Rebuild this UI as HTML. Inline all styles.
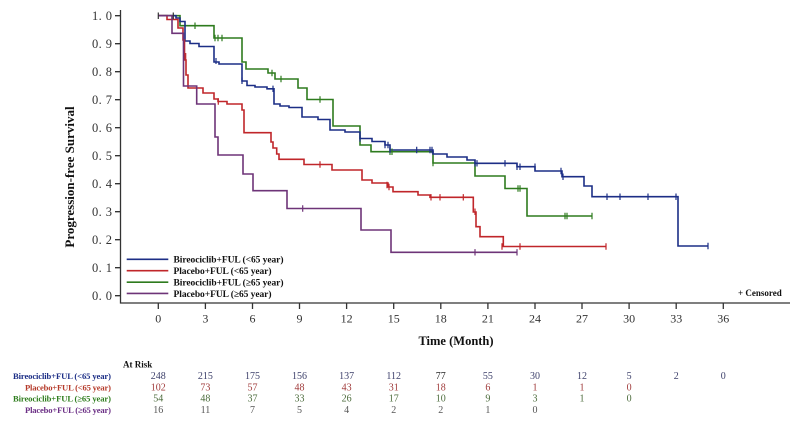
<!DOCTYPE html>
<html><head><meta charset="utf-8"><style>
html,body{margin:0;padding:0;background:#fff;}
svg{display:block;}
text{font-family:"Liberation Serif",serif;}
</style></head><body>
<svg width="800" height="424" viewBox="0 0 800 424" xmlns="http://www.w3.org/2000/svg">
<rect width="800" height="424" fill="#fff"/>
<!-- axes -->
<g stroke="#333" stroke-width="1.3" fill="none">
<path d="M120.5,10 V303 H790"/>
<path d="M115,15.7H120 M115,43.7H120 M115,71.7H120 M115,99.7H120 M115,127.7H120 M115,155.7H120 M115,183.7H120 M115,211.7H120 M115,239.7H120 M115,267.7H120 M115,295.7H120"/>
<path d="M158.3,303V309 M205.4,303V309 M252.5,303V309 M299.5,303V309 M346.6,303V309 M393.7,303V309 M440.8,303V309 M487.9,303V309 M535,303V309 M582,303V309 M629.1,303V309 M676.2,303V309 M723.3,303V309"/>
</g>
<g font-size="12.5" fill="#333" text-anchor="end">
<text x="112" y="20" textLength="20">1. 0</text>
<text x="112" y="48" textLength="20">0. 9</text>
<text x="112" y="76" textLength="20">0. 8</text>
<text x="112" y="104" textLength="20">0. 7</text>
<text x="112" y="132" textLength="20">0. 6</text>
<text x="112" y="160" textLength="20">0. 5</text>
<text x="112" y="188" textLength="20">0. 4</text>
<text x="112" y="216" textLength="20">0. 3</text>
<text x="112" y="244" textLength="20">0. 2</text>
<text x="112" y="272" textLength="20">0. 1</text>
<text x="112" y="300" textLength="20">0. 0</text>
</g>
<g font-size="12" fill="#333" text-anchor="middle">
<text x="158.3" y="322.5">0</text><text x="205.4" y="322.5">3</text><text x="252.5" y="322.5">6</text><text x="299.5" y="322.5">9</text>
<text x="346.6" y="322.5">12</text><text x="393.7" y="322.5">15</text><text x="440.8" y="322.5">18</text><text x="487.9" y="322.5">21</text>
<text x="535" y="322.5">24</text><text x="582" y="322.5">27</text><text x="629.1" y="322.5">30</text><text x="676.2" y="322.5">33</text><text x="723.3" y="322.5">36</text>
</g>
<text x="456" y="345" font-size="12.5" font-weight="bold" text-anchor="middle" fill="#111">Time (Month)</text>
<text transform="translate(74,177) rotate(-90)" font-size="13" font-weight="bold" text-anchor="middle" fill="#111">Progression-free Survival</text>
<text x="738" y="296" font-size="9" font-weight="bold" fill="#111">+ Censored</text>

<!-- curves -->
<g fill="none" stroke-width="1.6" stroke-linejoin="miter">
<path stroke="#2e7b1e" d="M158.3,15.7 H180 V25.7 H214 V38 H242 V62 H246 V69 H268 V73 H275 V79 H298 V88 H307 V99.5 H333 V126 H360 V145 H371 V151.7 H433 V163 H475 V176 H505 V188.5 H527 V216 H592"/>
<path stroke="#1c2e86" d="M158.3,15.7 H176 V18 H180 V21.5 H185 V41 H190 V43.5 H199 V46.5 H214 V62 H219 V64 H242 V81 H247 V85.5 H255 V87 H267 V88.8 H274 V104 H280 V106 H289 V107.5 H302 V117 H318 V119.5 H330 V130 H345 V132 H360 V138.5 H372 V141.5 H385 V145 H390 V150 H433 V154 H447 V157 H467 V160 H475 V163.3 H517 V166.7 H535 V171 H562 V176.7 H584 V186 H592 V196.7 H678 V246 H708"/>
<path stroke="#c0262a" d="M158.3,15.7 H167 V19.5 H178 V28 H183 V40 H184.5 V60 H186 V75 H188 V88 H203 V93 H214 V99 H218 V101.5 H227 V104 H242 V110 H244 V132.7 H271 V142 H273 V148 H276.7 V154 H279 V159.3 H304 V164.5 H332 V170 H362 V180 H372 V183 H388 V187 H393 V191.7 H418 V195 H430 V197.3 H473.3 V212 H476 V226.7 H480 V236.7 H503.3 V246.5 H606"/>
<path stroke="#6e3478" d="M158.3,15.7 H172 V33.3 H183.5 V86 H196.7 V104 H215 V137 H218 V155 H243 V174 H253 V190.7 H287 V208.5 H361 V230 H391 V252.3 H517"/>
</g>
<!-- censor marks -->
<g stroke-width="1.2">
<path stroke="#333" d="M158.3,12.5V19 M173.3,12.5V19"/>
<path stroke="#2e7b1e" d="M195,22.5V29 M215,34.8V41.2 M218,34.8V41.2 M222,34.8V41.2 M272,69.8V76.2 M281,75.8V82.2 M320,96.3V102.7 M390,148.5V155 M392,148.5V155 M433,159.8V166.2 M518,185.3V191.7 M520,185.3V191.7 M565,212.8V219.2 M567,212.8V219.2 M592,212.8V219.2"/>
<path stroke="#1c2e86" d="M216,58V64 M242,77.5V84 M273,85.6V92 M360,135.3V141.7 M385,141.8V148.2 M388,141.8V148.2 M390,146.8V153.2 M416.7,146.8V153.2 M430,146.8V153.2 M432,146.8V153.2 M475,160.1V166.5 M477,160.1V166.5 M505,160.1V166.5 M517,163.5V170 M520,163.5V170 M535,163.5V170 M561,167.8V174.2 M563,173.5V180 M607,193.5V200 M620,193.5V200 M648,193.5V200 M676,193.5V200 M708,242.8V249.2"/>
<path stroke="#c0262a" d="M185.7,53V59.5 M218.3,98.3V104.7 M320,161.3V167.7 M387,181.8V188.2 M389,183.8V190.2 M431,194.1V200.5 M440,194.1V200.5 M463.3,194.1V200.5 M475,208.5V215 M502,243.3V249.7 M520,243.3V249.7 M606,243.3V249.7"/>
<path stroke="#6e3478" d="M302.7,205.3V211.7 M475,249.1V255.5 M517,249.1V255.5"/>
</g>
<!-- legend -->
<g stroke-width="1.6">
<line x1="126.7" y1="259.3" x2="168.3" y2="259.3" stroke="#1c2e86"/>
<line x1="126.7" y1="270.7" x2="168.3" y2="270.7" stroke="#c0262a"/>
<line x1="126.7" y1="282.2" x2="168.3" y2="282.2" stroke="#2e7b1e"/>
<line x1="126.7" y1="293.4" x2="168.3" y2="293.4" stroke="#6e3478"/>
</g>
<g font-size="9.5" font-weight="bold" fill="#111">
<text x="173.5" y="262.5" textLength="110">Bireociclib+FUL (&lt;65 year)</text>
<text x="173.5" y="274" textLength="98">Placebo+FUL (&lt;65 year)</text>
<text x="173.5" y="285.5" textLength="110">Bireociclib+FUL (≥65 year)</text>
<text x="173.5" y="296.8" textLength="98">Placebo+FUL (≥65 year)</text>
</g>
<!-- at risk -->
<text x="123" y="367.5" font-size="9" font-weight="bold" fill="#111">At Risk</text>
<g font-size="8.6" font-weight="bold" text-anchor="end">
<text x="111" y="379" fill="#1c2e86" textLength="98">Bireociclib+FUL (&lt;65 year)</text>
<text x="111" y="390.3" fill="#b53a2a" textLength="86">Placebo+FUL (&lt;65 year)</text>
<text x="111" y="401.6" fill="#2f7d1e" textLength="98">Bireociclib+FUL (≥65 year)</text>
<text x="111" y="413" fill="#6b2f85" textLength="86">Placebo+FUL (≥65 year)</text>
</g>
<g font-size="10" text-anchor="middle">
<g fill="#3c3f6a">
<text x="158.3" y="379">248</text><text x="205.4" y="379">215</text><text x="252.5" y="379">175</text><text x="299.5" y="379">156</text><text x="346.6" y="379">137</text><text x="393.7" y="379">112</text><text x="440.8" y="379" fill="#222">77</text><text x="487.9" y="379">55</text><text x="535" y="379">30</text><text x="582" y="379">12</text><text x="629.1" y="379">5</text><text x="676.2" y="379">2</text><text x="723.3" y="379">0</text>
</g>
<g fill="#a03b3b">
<text x="158.3" y="390.3">102</text><text x="205.4" y="390.3">73</text><text x="252.5" y="390.3">57</text><text x="299.5" y="390.3">48</text><text x="346.6" y="390.3">43</text><text x="393.7" y="390.3">31</text><text x="440.8" y="390.3">18</text><text x="487.9" y="390.3">6</text><text x="535" y="390.3">1</text><text x="582" y="390.3">1</text><text x="629.1" y="390.3">0</text>
</g>
<g fill="#4b6b3b">
<text x="158.3" y="401.6">54</text><text x="205.4" y="401.6">48</text><text x="252.5" y="401.6">37</text><text x="299.5" y="401.6">33</text><text x="346.6" y="401.6">26</text><text x="393.7" y="401.6">17</text><text x="440.8" y="401.6">10</text><text x="487.9" y="401.6">9</text><text x="535" y="401.6">3</text><text x="582" y="401.6">1</text><text x="629.1" y="401.6">0</text>
</g>
<g fill="#555">
<text x="158.3" y="413">16</text><text x="205.4" y="413">11</text><text x="252.5" y="413">7</text><text x="299.5" y="413">5</text><text x="346.6" y="413">4</text><text x="393.7" y="413">2</text><text x="440.8" y="413">2</text><text x="487.9" y="413">1</text><text x="535" y="413">0</text>
</g>
</g>
</svg>
</body></html>
